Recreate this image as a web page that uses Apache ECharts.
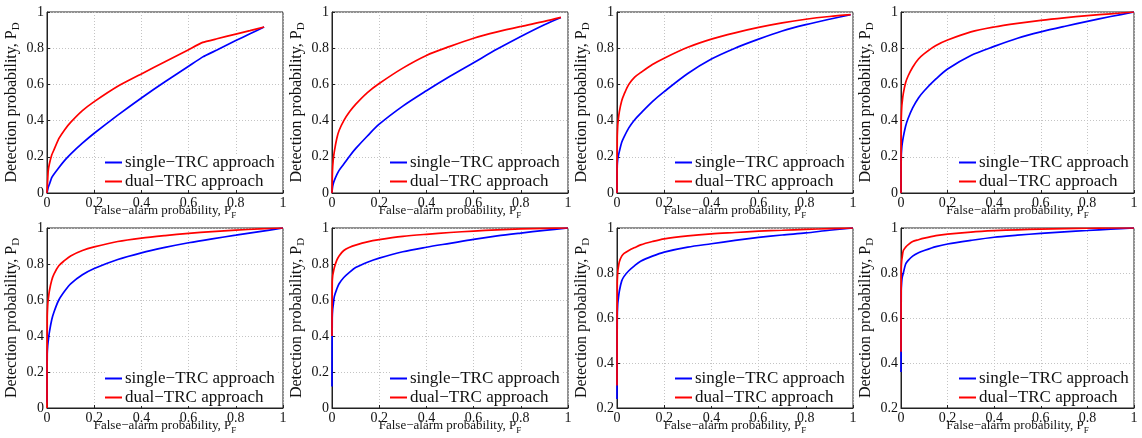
<!DOCTYPE html>
<html>
<head>
<meta charset="utf-8">
<script src="https://cdn.jsdelivr.net/npm/echarts@6/dist/echarts.min.js"></script>
<style>
  html, body { margin: 0; padding: 0; background: #fff; }
  #chart { width: 1142px; height: 438px; }
</style>
</head>
<body>
<div id="chart"></div>
<script>
// ROC curves: detection probability P_D versus false-alarm probability P_F,
// single-TRC vs dual-TRC detectors, eight operating conditions.

const seriesNames = ['single\u2212TRC approach', 'dual\u2212TRC approach'];

// Panel 1
const pf1 = [0, 0.005, 0.01, 0.02, 0.03, 0.05, 0.075, 0.1, 0.15, 0.2, 0.3, 0.4, 0.5, 0.6, 0.66, 0.72, 0.8, 0.86, 0.92];
const single1 = [0, 0.03, 0.048, 0.085, 0.105, 0.14, 0.18, 0.215, 0.275, 0.33, 0.43, 0.525, 0.615, 0.7, 0.752, 0.79, 0.842, 0.88, 0.917];
const dual1 = [0, 0.12, 0.16, 0.21, 0.24, 0.3, 0.35, 0.39, 0.455, 0.505, 0.59, 0.658, 0.725, 0.792, 0.832, 0.852, 0.878, 0.897, 0.917];

// Panel 2
const pf2 = [0, 0.002, 0.005, 0.01, 0.02, 0.03, 0.05, 0.075, 0.1, 0.15, 0.2, 0.3, 0.4, 0.5, 0.6, 0.7, 0.8, 0.9, 0.97];
const single2 = [0, 0.03, 0.05, 0.07, 0.1, 0.125, 0.16, 0.205, 0.245, 0.315, 0.38, 0.48, 0.565, 0.645, 0.72, 0.795, 0.865, 0.93, 0.97];
const dual2 = [0, 0.12, 0.18, 0.23, 0.3, 0.345, 0.4, 0.45, 0.49, 0.555, 0.605, 0.69, 0.76, 0.81, 0.855, 0.89, 0.92, 0.948, 0.97];

// Panel 3
const pf3 = [0, 0.001, 0.003, 0.005, 0.01, 0.02, 0.03, 0.05, 0.075, 0.1, 0.15, 0.2, 0.3, 0.4, 0.5, 0.6, 0.7, 0.8, 0.9, 0.99];
const single3 = [0, 0.15, 0.185, 0.2, 0.23, 0.28, 0.31, 0.36, 0.405, 0.44, 0.505, 0.56, 0.66, 0.74, 0.8, 0.85, 0.895, 0.93, 0.96, 0.985];
const dual3 = [0, 0.3, 0.37, 0.4, 0.45, 0.51, 0.545, 0.6, 0.64, 0.665, 0.71, 0.745, 0.805, 0.85, 0.885, 0.915, 0.94, 0.96, 0.975, 0.985];

// Panels 4-8 share one P_F grid
const pf = [0, 0.001, 0.003, 0.005, 0.01, 0.02, 0.03, 0.05, 0.075, 0.1, 0.15, 0.2, 0.3, 0.4, 0.5, 0.6, 0.7, 0.8, 0.9, 1];
const single4 = [0, 0.2, 0.245, 0.27, 0.31, 0.37, 0.41, 0.47, 0.525, 0.565, 0.63, 0.685, 0.76, 0.81, 0.855, 0.89, 0.92, 0.948, 0.975, 1];
const dual4 = [0, 0.4, 0.47, 0.5, 0.55, 0.61, 0.645, 0.695, 0.74, 0.77, 0.815, 0.845, 0.89, 0.917, 0.937, 0.954, 0.968, 0.98, 0.99, 1];
const single5 = [0.03, 0.3, 0.345, 0.37, 0.42, 0.49, 0.535, 0.6, 0.65, 0.69, 0.74, 0.775, 0.825, 0.862, 0.892, 0.918, 0.94, 0.96, 0.98, 1];
const dual5 = [0, 0.5, 0.57, 0.6, 0.65, 0.71, 0.745, 0.79, 0.82, 0.845, 0.875, 0.895, 0.925, 0.944, 0.958, 0.97, 0.98, 0.988, 0.995, 1];
const single6 = [0.12, 0.5, 0.55, 0.57, 0.62, 0.66, 0.69, 0.725, 0.755, 0.78, 0.81, 0.833, 0.868, 0.893, 0.915, 0.937, 0.956, 0.972, 0.987, 1];
const dual6 = [0.4, 0.7, 0.735, 0.75, 0.78, 0.82, 0.845, 0.875, 0.893, 0.905, 0.923, 0.935, 0.953, 0.965, 0.975, 0.983, 0.99, 0.995, 0.998, 1];
const single7 = [0.24, 0.6, 0.66, 0.68, 0.72, 0.765, 0.785, 0.81, 0.833, 0.852, 0.875, 0.893, 0.915, 0.93, 0.945, 0.958, 0.969, 0.978, 0.99, 1];
const dual7 = [0.3, 0.75, 0.8, 0.82, 0.85, 0.875, 0.887, 0.9, 0.913, 0.925, 0.94, 0.952, 0.965, 0.974, 0.98, 0.986, 0.99, 0.994, 0.997, 1];
const single8 = [0.36, 0.72, 0.76, 0.78, 0.8, 0.84, 0.855, 0.875, 0.89, 0.9, 0.917, 0.929, 0.945, 0.959, 0.968, 0.976, 0.983, 0.989, 0.995, 1];
const dual8 = [0.45, 0.82, 0.855, 0.87, 0.9, 0.915, 0.925, 0.94, 0.948, 0.955, 0.966, 0.973, 0.982, 0.988, 0.992, 0.995, 0.997, 0.999, 1, 1];

// Lower bound of each panel's P_D axis
const yMins = [0, 0, 0, 0, 0, 0, 0.2, 0.2];

const panels = [
  [pf1, single1, dual1], [pf2, single2, dual2], [pf3, single3, dual3], [pf, single4, dual4],
  [pf, single5, dual5], [pf, single6, dual6], [pf, single7, dual7], [pf, single8, dual8]
];

// layout
const colLeft = [47, 332, 617, 901];
const colWidth = [236, 236, 236, 233];
const rowTop = [12, 228];
const rowHeight = [181, 180];
const FONT = '"Liberation Serif", "Times New Roman", serif';
const COLORS = ['#0000ff', '#ff0000'];
// panel 1 has a sharp bend, so it is drawn with less curve smoothing
const smoothing = [0.12, 0.3, 0.3, 0.3, 0.3, 0.3, 0.3, 0.3];

const zip = (xs, ys) => xs.map((x, i) => [x, ys[i]]);
const fmt = v => String(+v.toFixed(1));

const nameStyle = (size, subSize, drop) => ({
  fontFamily: FONT, fontSize: size, color: '#111',
  rich: { sub: { fontFamily: FONT, fontSize: subSize, color: '#111', padding: [drop, 0, 0, 0] } }
});

const grids = [], xAxes = [], yAxes = [], legends = [], series = [];
panels.forEach((p, i) => {
  const r = Math.floor(i / 4), c = i % 4;
  grids.push({
    left: colLeft[c], top: rowTop[r], width: colWidth[c], height: rowHeight[r],
    show: true, borderColor: '#222', borderWidth: 1, backgroundColor: '#fff'
  });
  const common = {
    type: 'value', max: 1, interval: 0.2, gridIndex: i,
    axisLine: { show: true, lineStyle: { color: '#222', width: 1 } },
    axisTick: { show: true, inside: true, length: 3, lineStyle: { color: '#222' } },
    splitLine: { show: true, lineStyle: { color: '#c4c4c4', type: [1, 2], width: 1 } },
    axisLabel: { fontFamily: FONT, fontSize: 14, color: '#111', margin: 3, formatter: fmt },
    nameLocation: 'middle'
  };
  xAxes.push(Object.assign({}, common, {
    min: 0, name: 'False\u2212alarm probability, P{sub|F}', nameGap: 9,
    nameMoveOverlap: false,
    nameTextStyle: nameStyle(13, 9, 9)
  }));
  yAxes.push(Object.assign({}, common, {
    min: yMins[i], name: 'Detection probability, P{sub|D}', nameGap: 25,
    nameTextStyle: nameStyle(16, 11, 10)
  }));
  legends.push({
    left: colLeft[c] + 58, top: rowTop[r] + 142, orient: 'vertical',
    icon: 'rect', itemWidth: 17, itemHeight: 2, itemGap: 2, padding: [0, 2, 0, 0],
    backgroundColor: '#fff', selectedMode: false,
    textStyle: { fontFamily: FONT, fontSize: 17, color: '#111', padding: [0, 0, 0, -2] },
    data: seriesNames
  });
  [p[1], p[2]].forEach((ys, k) => {
    series.push({
      name: seriesNames[k], type: 'line', xAxisIndex: i, yAxisIndex: i,
      data: zip(p[0], ys), showSymbol: false, smooth: smoothing[i],
      lineStyle: { color: COLORS[k], width: 1.7 }, itemStyle: { color: COLORS[k] },
      animation: false, z: 2 + k
    });
  });
});

const chart = echarts.init(document.getElementById('chart'), null, { renderer: 'canvas' });
chart.setOption({
  backgroundColor: '#fff',
  animation: false,
  grid: grids, xAxis: xAxes, yAxis: yAxes, legend: legends, series: series
});
</script>
</body>
</html>
